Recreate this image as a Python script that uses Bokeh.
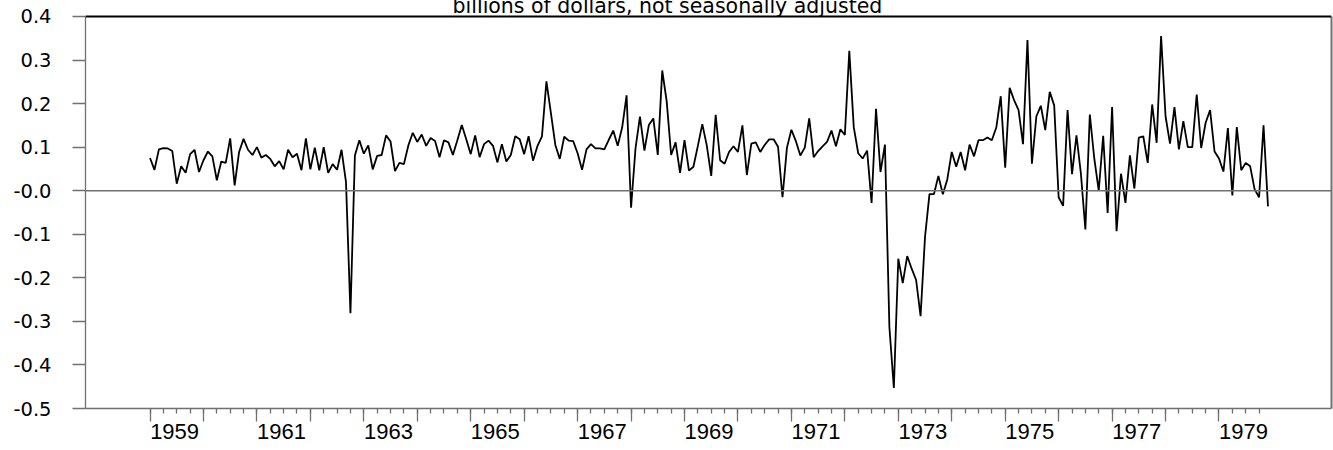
from bokeh.plotting import figure
from bokeh.models import Range1d, FixedTicker, LinearAxis, Span, Label
from bokeh.embed import file_html
from bokeh.resources import INLINE

# ---- data: monthly values, billions of dollars (not seasonally adjusted) ----
start_year = 1959
y1959 = [0.075, 0.048, 0.095, 0.098, 0.097, 0.091, 0.016, 0.056, 0.041, 0.084, 0.094, 0.043]
y1960 = [0.070, 0.090, 0.079, 0.024, 0.067, 0.064, 0.120, 0.012, 0.089, 0.119, 0.094, 0.082]
y1961 = [0.100, 0.076, 0.082, 0.073, 0.056, 0.068, 0.049, 0.094, 0.077, 0.085, 0.047, 0.120]
y1962 = [0.049, 0.099, 0.047, 0.100, 0.041, 0.061, 0.048, 0.094, 0.020, -0.281, 0.081, 0.116]
y1963 = [0.085, 0.104, 0.049, 0.080, 0.082, 0.127, 0.113, 0.045, 0.064, 0.061, 0.104, 0.133]
y1964 = [0.112, 0.129, 0.103, 0.121, 0.114, 0.077, 0.116, 0.111, 0.082, 0.116, 0.151, 0.118]
y1965 = [0.084, 0.127, 0.077, 0.107, 0.115, 0.103, 0.065, 0.107, 0.067, 0.082, 0.125, 0.118]
y1966 = [0.084, 0.125, 0.069, 0.103, 0.125, 0.251, 0.179, 0.105, 0.073, 0.124, 0.115, 0.114]
y1967 = [0.086, 0.048, 0.095, 0.107, 0.097, 0.097, 0.095, 0.117, 0.138, 0.103, 0.145, 0.219]
y1968 = [-0.039, 0.097, 0.170, 0.092, 0.151, 0.166, 0.082, 0.276, 0.205, 0.082, 0.111, 0.041]
y1969 = [0.116, 0.046, 0.055, 0.103, 0.153, 0.104, 0.034, 0.174, 0.070, 0.062, 0.089, 0.102]
y1970 = [0.089, 0.150, 0.036, 0.108, 0.111, 0.089, 0.105, 0.118, 0.118, 0.101, -0.015, 0.099]
y1971 = [0.140, 0.114, 0.081, 0.099, 0.166, 0.077, 0.091, 0.102, 0.112, 0.138, 0.102, 0.141]
y1972 = [0.128, 0.321, 0.146, 0.086, 0.074, 0.092, -0.028, 0.188, 0.043, 0.106, -0.313, -0.453]
y1973 = [-0.156, -0.212, -0.150, -0.179, -0.205, -0.288, -0.106, -0.008, -0.008, 0.034, -0.008, 0.026]
y1974 = [0.089, 0.055, 0.089, 0.047, 0.106, 0.079, 0.116, 0.116, 0.122, 0.116, 0.145, 0.217]
y1975 = [0.053, 0.236, 0.208, 0.185, 0.107, 0.346, 0.062, 0.171, 0.195, 0.139, 0.227, 0.196]
y1976 = [-0.015, -0.035, 0.185, 0.038, 0.127, 0.039, -0.089, 0.175, 0.074, 0.000, 0.126, -0.051]
y1977 = [0.192, -0.093, 0.039, -0.028, 0.081, 0.005, 0.122, 0.125, 0.064, 0.198, 0.110, 0.355]
y1978 = [0.171, 0.108, 0.192, 0.095, 0.160, 0.100, 0.100, 0.221, 0.098, 0.156, 0.185, 0.090]
y1979 = [0.074, 0.044, 0.144, -0.011, 0.146, 0.047, 0.064, 0.056, 0.003, -0.015, 0.150, -0.036]

yearly = [y1959, y1960, y1961, y1962, y1963, y1964, y1965, y1966, y1967, y1968, y1969,
          y1970, y1971, y1972, y1973, y1974, y1975, y1976, y1977, y1978, y1979]

title_text = "billions of dollars, not seasonally adjusted"

y_tick_values = [-0.5, -0.4, -0.3, -0.2, -0.1, 0.0, 0.1, 0.2, 0.3, 0.4]
y_tick_labels = ["-0.5", "-0.4", "-0.3", "-0.2", "-0.1", "-0.0", "0.1", "0.2", "0.3", "0.4"]

year_ticks = list(range(1959, 1980))
quarter_ticks = [1959 + q / 4 for q in range(0, 4 * 20 + 4)]
label_years = list(range(1959, 1980, 2))

# ---- build series ----
values = [v for yr in yearly for v in yr]
months = [start_year + i / 12 for i in range(len(values))]

GREY = "#707070"
Y_LO, Y_HI = -0.5, 0.4

p = figure(width=1333, height=452, title=None,
           x_range=Range1d(1957.793, 1981.105), y_range=Range1d(Y_LO, 0.4459),
           output_backend="svg", toolbar_location=None,
           x_axis_location=None, y_axis_location=None,
           min_border_left=85, min_border_right=2, min_border_top=0, min_border_bottom=40,
           background_fill_color="white", border_fill_color="white",
           outline_line_color=None,
           styles={"position": "absolute", "left": "0px", "top": "-4px"})
p.grid.visible = False

# left axis
yax = LinearAxis(ticker=FixedTicker(ticks=y_tick_values, minor_ticks=[]),
                 bounds=(Y_LO, Y_HI),
                 major_label_overrides={v: s for v, s in zip(y_tick_values, y_tick_labels)},
                 axis_line_color=GREY, axis_line_width=1.3,
                 major_tick_line_color=GREY, major_tick_line_width=1.3,
                 major_tick_out=13, major_tick_in=0,
                 minor_tick_line_color=None,
                 major_label_standoff=21,
                 major_label_text_font="DejaVu Sans",
                 major_label_text_font_size="19.5px",
                 major_label_text_color="black")
p.add_layout(yax, "left")

# right border as a bare axis line
rax = LinearAxis(ticker=FixedTicker(ticks=[], minor_ticks=[]),
                 bounds=(Y_LO, Y_HI),
                 axis_line_color=GREY, axis_line_width=2,
                 major_tick_line_color=None, minor_tick_line_color=None,
                 major_tick_out=0, major_tick_in=0, minor_tick_out=0,
                 major_label_standoff=0, major_label_text_font_size="0px")
p.add_layout(rax, "right")

# bottom axis: tick marks only
xax_ticks = LinearAxis(ticker=FixedTicker(ticks=year_ticks, minor_ticks=quarter_ticks),
                       axis_line_color=GREY, axis_line_width=1.5,
                       major_tick_line_color=GREY, major_tick_line_width=1.3,
                       minor_tick_line_color=GREY, minor_tick_line_width=1.3,
                       major_tick_out=13, major_tick_in=0,
                       minor_tick_out=5, minor_tick_in=0,
                       major_label_text_font_size="0px", major_label_standoff=0,
                       major_label_text_alpha=0)
p.add_layout(xax_ticks, "below")

# bottom axis: year labels beside each odd year's tick
label_pos = [y + 0.46 for y in label_years]
xax_labels = LinearAxis(ticker=FixedTicker(ticks=label_pos, minor_ticks=[]),
                        major_label_overrides={v: str(y) for v, y in zip(label_pos, label_years)},
                        axis_line_color=None, major_tick_line_color=None,
                        minor_tick_line_color=None,
                        major_tick_out=0, major_tick_in=0,
                        major_label_standoff=2,
                        major_label_text_font="Liberation Sans",
                        major_label_text_font_size="22px",
                        major_label_text_color="black")
p.add_layout(xax_labels, "below")

# zero line and black top border
p.add_layout(Span(location=0, dimension="width", line_color=GREY, line_width=1.5))
p.add_layout(Span(location=Y_HI, dimension="width", line_color="black", line_width=1.8))

# series
p.line(months, values, line_color="black", line_width=1.8)

# title (partly above the page top, as in the reference)
p.add_layout(Label(x=1964.66, y=Y_HI, y_offset=10, text=title_text,
                   text_align="left", text_baseline="alphabetic",
                   text_font="DejaVu Sans", text_font_size="20.5px",
                   text_color="black"))

open("out.html", "w").write(file_html(p, INLINE))
